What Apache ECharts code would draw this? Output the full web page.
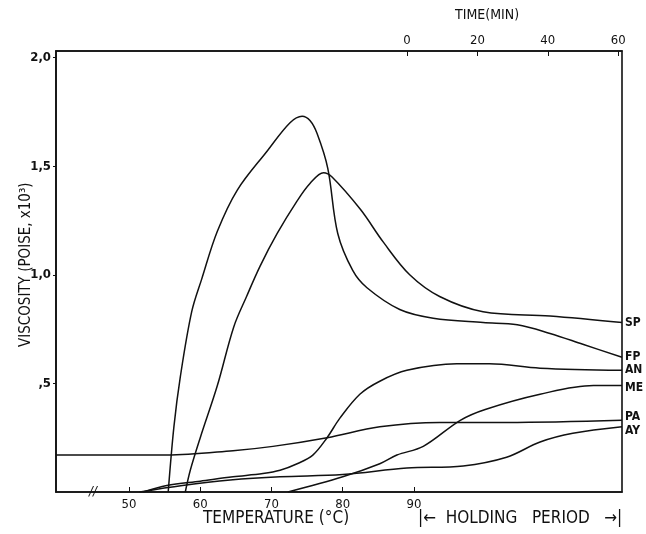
<!DOCTYPE html>
<html>
<head>
	<meta charset="utf-8">
	<title>Viscosity</title>
	<script src="https://cdn.jsdelivr.net/npm/echarts@6/dist/echarts.min.js"></script>
	<style>
        html,body{
            height:100%;
            width: 100%;
            margin: 0;
            padding: 0;
            background: #fff;
        }
        #chart{
            width: 646px;
            height: 534px;
        }
    </style>
</head>
<body>
	<div id="chart"></div>
	<script type="text/javascript">
		// [temperature scale, viscosity x10^3]; points past 90 are the holding period
		var fp = [[55.5,0],[56.3,0.3],[57.2,0.53],[58.8,0.83],[60.2,0.98],[62.4,1.2],[65.2,1.39],[69.4,1.57],[72.6,1.7],[74.3,1.73],[75.4,1.71],[76.4,1.65],[77.9,1.49],[79.3,1.19],[81.4,1.02],[83.4,0.94],[88.0,0.84],[92.7,0.8],[99.7,0.78],[104.5,0.77],[109.1,0.73],[113.7,0.68],[119.2,0.62]];
		var sp = [[57.9,0],[58.6,0.1],[60.0,0.25],[62.4,0.49],[64.7,0.76],[66.5,0.9],[68.4,1.04],[70.8,1.19],[73.6,1.34],[75.4,1.42],[77.3,1.47],[78.5,1.45],[82.5,1.3],[85.7,1.15],[89.4,1.0],[93.6,0.9],[99.7,0.83],[109.1,0.81],[119.2,0.78]];
		var an = [[52.0,0],[55.3,0.03],[60.0,0.05],[64.6,0.07],[68.8,0.085],[71.2,0.1],[73.6,0.13],[75.8,0.17],[77.8,0.25],[79.6,0.34],[82.4,0.45],[85.2,0.51],[89.0,0.56],[96.0,0.59],[100.6,0.59],[107.7,0.57],[119.2,0.56]];
		var me = [[72.3,0],[80.0,0.07],[85.2,0.13],[87.6,0.17],[91.3,0.21],[96.5,0.33],[100.0,0.38],[107.7,0.45],[115.2,0.49],[119.2,0.49]];
		var pa = [[39.75,0.17],[45.9,0.17],[55.3,0.17],[64.6,0.19],[70.2,0.21],[77.8,0.25],[85.2,0.3],[93.6,0.32],[103.0,0.32],[119.2,0.33]];
		var ay = [[51.5,0],[57.5,0.03],[64.2,0.055],[71.2,0.07],[80.0,0.08],[89.0,0.11],[96.9,0.12],[103.0,0.16],[107.7,0.23],[112.3,0.27],[119.2,0.3]];

		var tempTicks = [50,60,70,80,90];
		var timeTicks = [0,20,40,60];
		var viscTicks = [0.5,1,1.5,2];
		var viscLabels = {0.5:',5', 1:'1,0', 1.5:'1,5', 2:'2,0'};

		var FONT = "'Liberation Sans Narrow', 'DejaVu Sans Condensed', sans-serif";
		var INK = '#111';

		var chart = echarts.init(document.getElementById('chart'));

		function curve(name, data, offset) {
			return {
				name: name,
				type: 'line',
				data: data,
				smooth: 0.35,
				symbol: 'none',
				lineStyle: {color: INK, width: 1.5},
				endLabel: {
					show: true,
					formatter: '{a}',
					color: INK,
					fontFamily: FONT,
					fontSize: 12,
					fontWeight: 'bold',
					distance: 3,
					offset: offset || [0,0]
				}
			};
		}

		var option = {
			animation: false,
			backgroundColor: '#fff',
			grid: {left: 56, right: 24, top: 51, bottom: 42, show: true, borderColor: INK, borderWidth: 1.6},
			xAxis: [{
				type: 'value', position: 'bottom', min: 39.75, max: 119.2,
				splitLine: {show: false},
				axisLine: {onZero: false, lineStyle: {color: INK, width: 1.6}},
				axisTick: {inside: true, length: 5, customValues: tempTicks, lineStyle: {color: INK}},
				axisLabel: {customValues: tempTicks, color: INK, fontFamily: FONT, fontSize: 13, margin: 6}
			}, {
				type: 'value', position: 'top', min: -99.8, max: 61.1,
				splitLine: {show: false},
				axisLine: {onZero: false, lineStyle: {color: INK, width: 1.6}},
				axisTick: {inside: true, length: 5, customValues: timeTicks, lineStyle: {color: INK}},
				axisLabel: {customValues: timeTicks, color: INK, fontFamily: FONT, fontSize: 13, margin: 4}
			}],
			yAxis: {
				type: 'value', position: 'left', min: 0, max: 2.03,
				splitLine: {show: false},
				axisLine: {show: true, onZero: false, lineStyle: {color: INK, width: 1.6}},
				axisTick: {length: 3, customValues: viscTicks, lineStyle: {color: INK}},
				axisLabel: {
					customValues: viscTicks, color: INK, fontFamily: FONT, fontSize: 13, fontWeight: 'bold', margin: 5,
					formatter: function (v) { return viscLabels[v]; }
				}
			},
			graphic: [
				{type: 'text', left: 455, top: 8, style: {text: 'TIME(MIN)', font: '14px ' + FONT, fill: INK}},
				{type: 'text', left: 203, top: 510, style: {text: 'TEMPERATURE (°C)', font: '17px ' + FONT, fill: INK}},
				{type: 'text', left: 418, top: 510, style: {text: '|←  HOLDING   PERIOD   →|', font: '17px ' + FONT, fill: INK}},
				{type: 'text', x: 19, y: 347, rotation: Math.PI / 2,
					style: {text: 'VISCOSITY (POISE, x10³)', font: '15px ' + FONT, fill: INK, align: 'left', verticalAlign: 'top'}},
				{type: 'text', left: 89, top: 485, style: {text: '//', font: 'italic 13px ' + FONT, fill: INK}}
			],
			series: [
				curve('SP', sp),
				curve('FP', fp),
				curve('AN', an),
				curve('ME', me, [0, 2]),
				curve('PA', pa, [0, -3]),
				curve('AY', ay, [0, 4])
			]
		};

		chart.setOption(option);
	</script>
</body>
</html>
